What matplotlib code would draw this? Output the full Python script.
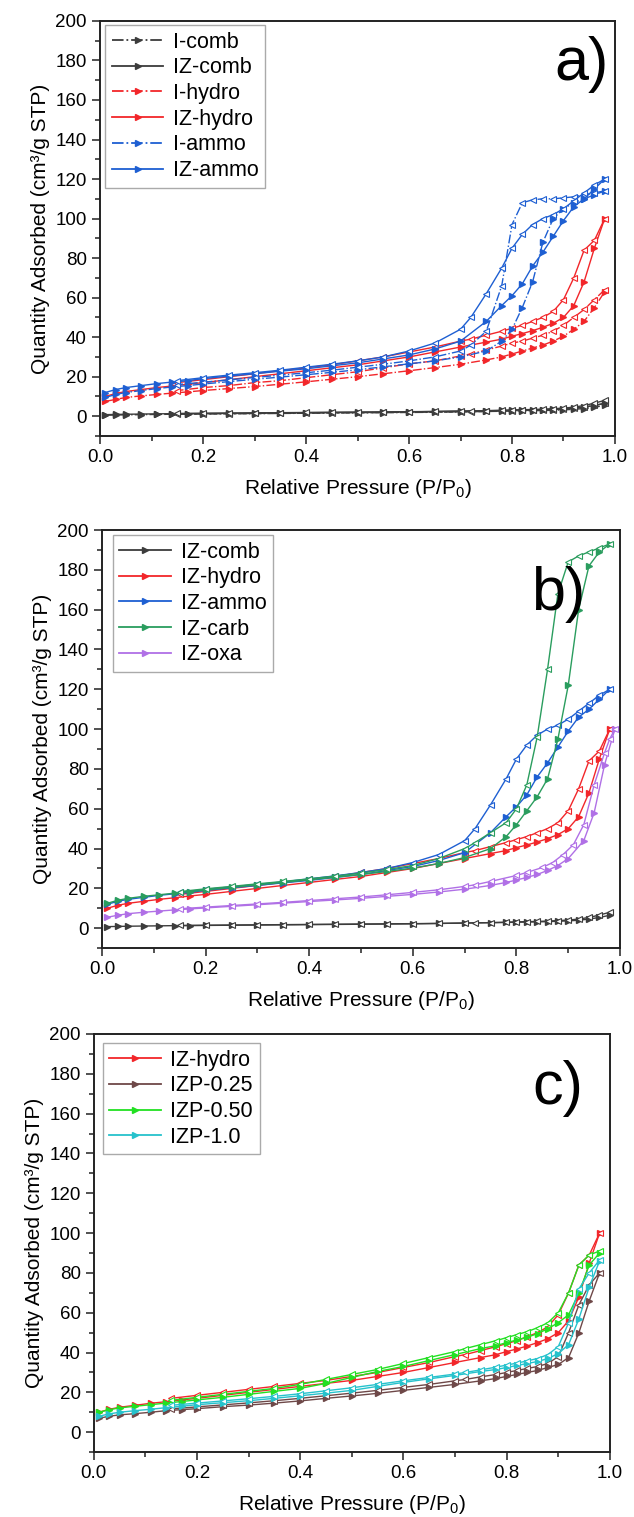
import matplotlib
matplotlib.use("Agg")
import matplotlib.pyplot as plt
from matplotlib.lines import Line2D
from matplotlib.ticker import MultipleLocator

plt.rcParams['font.family'] = ['Liberation Sans', 'DejaVu Sans']
plt.rcParams['mathtext.fontset'] = 'custom'
plt.rcParams['mathtext.rm'] = 'Liberation Sans'

# pressure grids (adsorption up, desorption down)
x_ads = [0.01, 0.03, 0.05, 0.08, 0.11, 0.14, 0.17, 0.2, 0.25, 0.3, 0.35, 0.4, 0.45, 0.5,
         0.55, 0.6, 0.65, 0.7, 0.75, 0.78, 0.8, 0.82, 0.84, 0.86, 0.88, 0.9, 0.92, 0.94,
         0.96, 0.98]
x_des = [0.98, 0.96, 0.94, 0.92, 0.9, 0.88, 0.86, 0.84, 0.82, 0.8, 0.78, 0.75, 0.72, 0.7,
         0.65, 0.6, 0.55, 0.5, 0.45, 0.4, 0.35, 0.3, 0.25, 0.2, 0.15]
x_oxa_ads = [0.01, 0.03, 0.05, 0.08, 0.11, 0.14, 0.17, 0.2, 0.25, 0.3, 0.35, 0.4, 0.45, 0.5,
             0.55, 0.6, 0.65, 0.7, 0.75, 0.78, 0.8, 0.82, 0.84, 0.86, 0.88, 0.9, 0.93, 0.95,
             0.97, 0.99]
x_oxa_des = [0.99, 0.98, 0.97, 0.95, 0.93, 0.91, 0.89, 0.87, 0.85, 0.82, 0.8, 0.75, 0.72, 0.7,
             0.65, 0.6, 0.55, 0.5, 0.45, 0.4, 0.35, 0.3, 0.25, 0.2, 0.15]

# quantity adsorbed (cm3/g STP)
i_comb_ads = [0.5, 0.6, 0.7, 0.8, 0.9, 1.0, 1.0, 1.1, 1.2, 1.3, 1.4, 1.5, 1.6, 1.7, 1.8, 1.9,
              2.0, 2.2, 2.4, 2.5, 2.6, 2.7, 2.8, 2.9, 3.0, 3.2, 3.5, 3.9, 4.5, 5.5]
i_comb_des = [6.5, 5.5, 4.6, 4.0, 3.6, 3.3, 3.1, 3.0, 2.9, 2.8, 2.6, 2.4, 2.3, 2.2, 2.1, 2.0,
              1.9, 1.8, 1.7, 1.6, 1.5, 1.4, 1.3, 1.2, 1.1]
iz_comb_ads = [0.8, 0.9, 1.0, 1.1, 1.2, 1.3, 1.3, 1.4, 1.5, 1.6, 1.7, 1.8, 1.9, 2.0, 2.1, 2.2,
               2.4, 2.6, 2.8, 2.9, 3.0, 3.1, 3.2, 3.3, 3.5, 3.7, 4.0, 4.6, 5.4, 6.5]
iz_comb_des = [8.0, 6.6, 5.4, 4.6, 4.1, 3.8, 3.6, 3.4, 3.3, 3.2, 3.0, 2.8, 2.7, 2.6, 2.4, 2.3,
               2.2, 2.1, 2.0, 1.9, 1.8, 1.7, 1.6, 1.5, 1.4]
i_hydro_ads = [7.5, 8.5, 9.5, 10.3, 11.0, 11.7, 12.3, 13.0, 14.0, 15.0, 16.2, 17.4, 18.7, 20.0,
               21.5, 23.0, 24.6, 26.3, 28.5, 30.0, 31.5, 33.0, 34.5, 36.0, 38.0, 40.5, 44.0,
               48.0, 55.0, 63.0]
i_hydro_des = [64.0, 59.0, 54.0, 50.0, 46.0, 43.0, 41.0, 39.5, 38.0, 37.0, 35.5, 33.5, 31.5,
               30.5, 28.0, 26.5, 24.5, 22.5, 21.0, 19.5, 18.0, 17.0, 15.5, 14.5, 13.0]
iz_hydro_ads = [10.0, 11.5, 12.5, 13.5, 14.5, 15.3, 16.2, 17.0, 18.5, 20.0, 21.5, 23.0, 24.5,
                26.0, 28.0, 30.0, 32.5, 35.0, 37.5, 39.0, 40.5, 41.8, 43.3, 45.0, 47.0, 50.0,
                56.0, 68.0, 85.0, 100.0]
iz_hydro_des = [100.0, 89.0, 84.0, 70.0, 59.0, 53.0, 50.0, 48.0, 46.0, 44.5, 43.0, 41.0, 39.0,
                38.0, 35.0, 32.5, 30.0, 28.0, 26.0, 24.5, 23.0, 21.5, 20.0, 18.5, 17.0]
i_ammo_ads = [9.5, 11.0, 12.0, 13.0, 14.0, 14.8, 15.5, 16.3, 17.5, 18.7, 19.8, 21.0, 22.2, 23.5,
              25.0, 26.5, 28.0, 30.0, 33.0, 38.0, 44.0, 55.0, 68.0, 88.0, 100.0, 105.0, 108.0,
              110.0, 112.0, 114.0]
i_ammo_des = [114.0, 113.0, 112.0, 111.0, 110.5, 110.0, 110.0, 109.5, 108.0, 97.0, 66.0, 43.0,
              36.0, 33.0, 30.0, 28.0, 26.3, 24.8, 23.3, 22.0, 20.8, 19.6, 18.4, 17.2, 16.0]
iz_ammo_ads = [12.0, 13.5, 14.5, 15.5, 16.5, 17.3, 18.0, 19.0, 20.3, 21.5, 22.8, 24.0, 25.5,
               27.0, 29.0, 31.0, 34.0, 38.0, 48.0, 56.0, 61.0, 67.0, 76.0, 83.0, 91.0, 99.0,
               106.0, 110.0, 115.0, 120.0]
iz_ammo_des = [120.0, 117.0, 113.0, 109.0, 105.0, 102.0, 100.0, 97.0, 92.0, 85.0, 75.0, 62.0,
               50.0, 44.0, 37.0, 33.0, 30.0, 28.0, 26.3, 24.8, 23.3, 22.0, 20.8, 19.5, 18.0]
iz_carb_ads = [12.5, 14.0, 15.0, 16.0, 16.8, 17.6, 18.4, 19.2, 20.5, 21.8, 23.0, 24.3, 25.6,
               27.0, 28.5, 30.2, 32.5, 35.5, 40.0, 46.0, 52.0, 59.0, 66.0, 75.0, 95.0, 122.0,
               160.0, 182.0, 189.0, 193.0]
iz_carb_des = [193.0, 191.0, 189.0, 187.0, 184.0, 168.0, 130.0, 96.0, 72.0, 60.0, 53.0, 48.0,
               43.0, 40.0, 35.0, 31.5, 29.5, 27.7, 26.2, 24.8, 23.5, 22.3, 21.0, 19.8, 18.4]
iz_oxa_ads = [5.5, 6.5, 7.3, 8.0, 8.6, 9.2, 9.7, 10.2, 11.0, 11.8, 12.6, 13.4, 14.2, 15.0, 16.0,
              17.0, 18.2, 19.6, 21.5, 23.0, 24.2, 25.5, 27.0, 29.0, 31.5, 35.0, 44.0, 58.0,
              82.0, 100.0]
iz_oxa_des = [100.0, 95.0, 88.0, 72.0, 52.0, 42.0, 37.0, 33.0, 30.5, 28.0, 26.5, 23.5, 21.8,
              21.0, 19.3, 18.0, 16.8, 15.7, 14.8, 13.9, 13.0, 12.2, 11.4, 10.6, 9.8]
izp025_ads = [7.0, 8.0, 8.7, 9.3, 10.0, 10.8, 11.3, 11.8, 12.8, 13.6, 14.6, 15.7, 17.0, 18.2,
              19.5, 21.0, 22.5, 24.0, 25.8, 27.0, 28.0, 29.0, 30.0, 31.0, 32.5, 34.0, 37.5,
              50.0, 66.0, 80.0]
izp025_des = [80.0, 74.0, 64.0, 50.0, 38.0, 34.5, 33.0, 32.0, 31.0, 30.0, 29.0, 27.8, 26.5,
              25.8, 24.0, 22.5, 21.0, 19.6, 18.3, 17.0, 15.8, 14.7, 13.7, 12.7, 11.7]
izp050_ads = [10.0, 11.3, 12.2, 13.0, 13.8, 14.6, 15.4, 16.2, 17.5, 19.0, 20.5, 22.0, 24.5,
              27.5, 30.5, 33.0, 36.0, 39.0, 42.0, 43.5, 45.0, 46.3, 47.7, 49.5, 52.0, 55.0,
              59.0, 70.0, 84.0, 90.0]
izp050_des = [91.0, 89.0, 84.0, 70.0, 60.0, 55.0, 52.5, 50.5, 49.0, 47.5, 46.0, 44.0, 42.0,
              40.5, 37.5, 34.5, 31.5, 29.0, 26.5, 24.0, 22.0, 20.5, 19.0, 17.5, 16.0]
izp10_ads = [8.0, 9.2, 10.0, 10.8, 11.5, 12.3, 13.0, 13.8, 14.8, 15.8, 17.0, 18.3, 19.6, 21.0,
             23.0, 25.0, 26.8, 28.5, 30.5, 31.5, 32.5, 33.5, 34.5, 35.5, 37.0, 39.5, 44.0,
             57.0, 73.0, 86.0]
izp10_des = [86.5, 80.0, 72.0, 55.0, 43.0, 39.0, 37.0, 35.8, 34.7, 33.7, 32.7, 31.3, 30.0,
             29.2, 27.5, 25.8, 24.0, 22.3, 20.8, 19.3, 18.0, 16.8, 15.7, 14.6, 13.5]

black = '#3c3c3c'
red = '#f2262a'
blue = '#1e5fd2'
green = '#2a9d5e'
purple = '#b070e6'
brown = '#6e4848'
lime = '#22e022'
cyan = '#26c2cc'

ylab = 'Quantity Adsorbed (cm³/g STP)'
xlab = r'Relative Pressure (P/P$_\mathregular{0}$)'


def isotherm(ax, xa, ya, xd, yd, color, ls, label, handles):
    ax.plot(xa, ya, color=color, ls=ls, lw=1.0, marker='>', ms=4.5, mfc=color, mec=color)
    ax.plot(xd, yd, color=color, ls=ls, lw=1.0, marker='<', ms=4.5, mfc='white', mec=color,
            mew=0.8)
    handles.append(Line2D([], [], color=color, ls=ls, lw=1.3, marker='>', ms=4.5,
                          mfc=color, mec=color, label=label))


def style(ax, letter, lx, ly, handles, anchor):
    ax.set_xlim(0, 1.0)
    ax.set_ylim(-10, 200)
    ax.xaxis.set_major_locator(MultipleLocator(0.2))
    ax.xaxis.set_minor_locator(MultipleLocator(0.1))
    ax.yaxis.set_major_locator(MultipleLocator(20))
    ax.yaxis.set_minor_locator(MultipleLocator(10))
    ax.xaxis.set_major_formatter(plt.FuncFormatter(lambda v, p: '%.1f' % v))
    ax.tick_params(which='both', direction='out', top=False, right=False, labelsize=13.5,
                   width=1.1, color='#222222')
    ax.tick_params(which='major', length=6)
    ax.tick_params(which='minor', length=3.5)
    for s in ax.spines.values():
        s.set_linewidth(1.4)
        s.set_color('#222222')
    ax.set_xlabel(xlab, fontsize=15, labelpad=8)
    ax.set_ylabel(ylab, fontsize=15, labelpad=4)
    ax.text(lx, ly, letter, transform=ax.transAxes, fontsize=44, ha='center', va='center')
    leg = ax.legend(handles=handles, loc='upper left', fontsize=15.5, frameon=True,
                    fancybox=False, edgecolor='#aaaaaa', framealpha=1, handlelength=2.4,
                    labelspacing=0.22, borderpad=0.3, handletextpad=0.45,
                    bbox_to_anchor=anchor, borderaxespad=0)
    leg.get_frame().set_linewidth(1.0)


fig = plt.figure(figsize=(6.34, 15.17), dpi=100)
ax1 = fig.add_axes([0.158, 0.7126, 0.812, 0.2736])
ax2 = fig.add_axes([0.161, 0.375, 0.817, 0.2756])
ax3 = fig.add_axes([0.148, 0.0428, 0.814, 0.2756])

# a) parent vs zeolite-coated
h1 = []
isotherm(ax1, x_ads, i_comb_ads, x_des, i_comb_des, black, '-.', 'I-comb', h1)
isotherm(ax1, x_ads, iz_comb_ads, x_des, iz_comb_des, black, '-', 'IZ-comb', h1)
isotherm(ax1, x_ads, i_hydro_ads, x_des, i_hydro_des, red, '-.', 'I-hydro', h1)
isotherm(ax1, x_ads, iz_hydro_ads, x_des, iz_hydro_des, red, '-', 'IZ-hydro', h1)
isotherm(ax1, x_ads, i_ammo_ads, x_des, i_ammo_des, blue, '-.', 'I-ammo', h1)
isotherm(ax1, x_ads, iz_ammo_ads, x_des, iz_ammo_des, blue, '-', 'IZ-ammo', h1)
style(ax1, 'a)', 0.935, 0.895, h1, (0.01, 0.99))

# b) synthesis routes
h2 = []
isotherm(ax2, x_ads, iz_comb_ads, x_des, iz_comb_des, black, '-', 'IZ-comb', h2)
isotherm(ax2, x_ads, iz_hydro_ads, x_des, iz_hydro_des, red, '-', 'IZ-hydro', h2)
isotherm(ax2, x_ads, iz_ammo_ads, x_des, iz_ammo_des, blue, '-', 'IZ-ammo', h2)
isotherm(ax2, x_ads, iz_carb_ads, x_des, iz_carb_des, green, '-', 'IZ-carb', h2)
isotherm(ax2, x_oxa_ads, iz_oxa_ads, x_oxa_des, iz_oxa_des, purple, '-', 'IZ-oxa', h2)
style(ax2, 'b)', 0.88, 0.845, h2, (0.021, 0.988))

# c) promoter loading
h3 = []
isotherm(ax3, x_ads, iz_hydro_ads, x_des, iz_hydro_des, red, '-', 'IZ-hydro', h3)
isotherm(ax3, x_ads, izp025_ads, x_des, izp025_des, brown, '-', 'IZP-0.25', h3)
isotherm(ax3, x_ads, izp050_ads, x_des, izp050_des, lime, '-', 'IZP-0.50', h3)
isotherm(ax3, x_ads, izp10_ads, x_des, izp10_des, cyan, '-', 'IZP-1.0', h3)
style(ax3, 'c)', 0.9, 0.87, h3, (0.017, 0.978))

fig.savefig('out.png', dpi=100)
